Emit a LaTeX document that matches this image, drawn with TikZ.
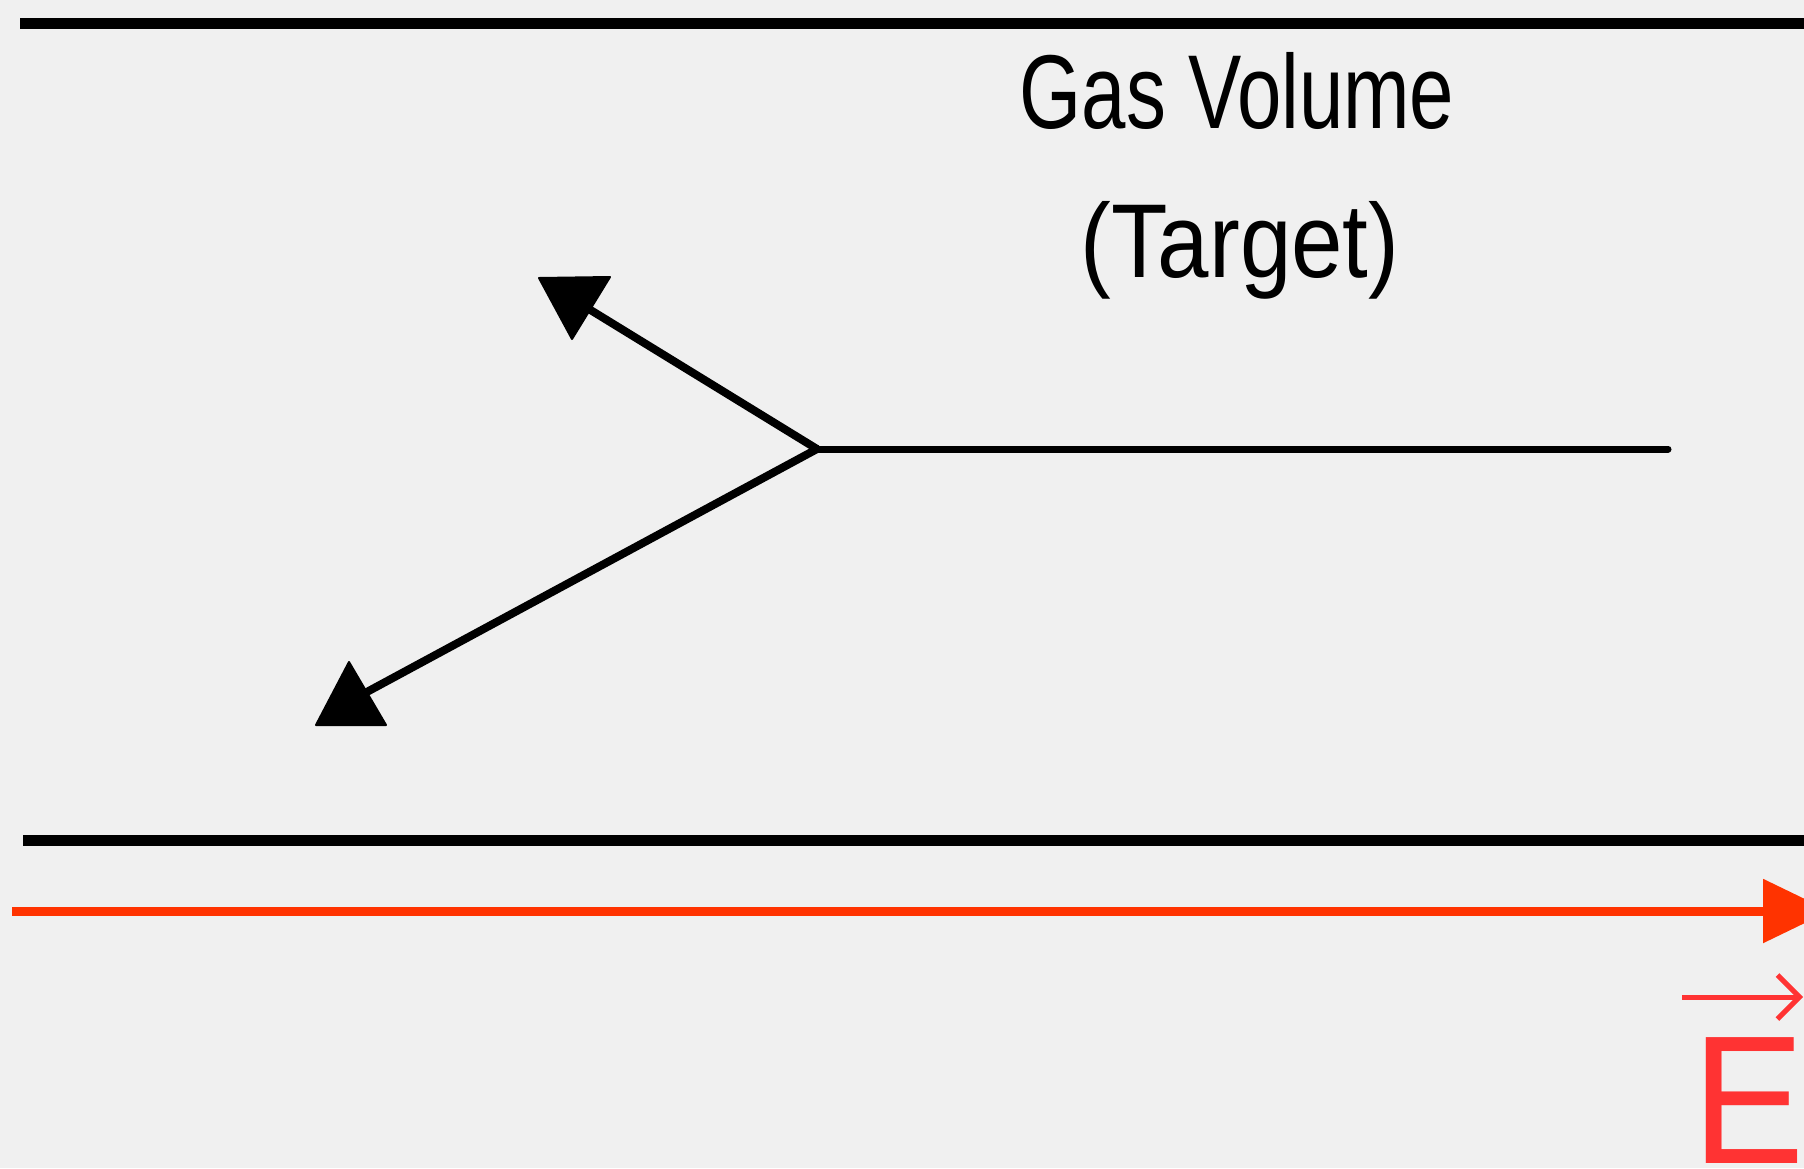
\documentclass[tikz,border=0pt]{standalone}
\usepackage{fontspec}
\setmainfont{Liberation Sans}
\usetikzlibrary{arrows.meta}
\definecolor{paper}{HTML}{F0F0F0}
\definecolor{fieldred}{HTML}{FF3300}
\definecolor{labelred}{HTML}{FF3333}
\begin{document}
\begin{tikzpicture}[x=1pt,y=-1pt,
  wall/.style={line width=11pt, black},
  track/.style={line width=6pt, black, line cap=round},
  tiphead/.style={fill=black, draw=black, line width=2pt, line join=round},
  field/.style={line width=9pt, fieldred, -{Triangle[length=67pt,width=62pt]}},
  vecarrow/.style={line width=5pt, labelred, -{Straight Barb[length=22pt,width=44pt,line width=5pt]}},
  caption/.style={font=\fontsize{105}{120}\selectfont, anchor=base, inner sep=0pt}]
\useasboundingbox (0,0) rectangle (1804,1168);
\fill[paper] (0,0) rectangle (1804,1168);
\clip (0,0) rectangle (1804,1168);

% walls of the gas cell
\coordinate (wtl) at (20,23);   \coordinate (wtr) at (1810,23);
\coordinate (wbl) at (23,840);  \coordinate (wbr) at (1810,840);
\draw[wall] (wtl) -- (wtr);
\draw[wall] (wbl) -- (wbr);

% electric field
\coordinate (fl) at (12,911);
\coordinate (fr) at (1830,911);
\draw[field] (fl) -- (fr);

% incoming track and the two outgoing tracks
\coordinate (v) at (817,449);
\coordinate (in) at (1668,449);
\coordinate (up) at (584,306);
\coordinate (dn) at (352,700);
\draw[track, line width=7pt] (in) -- (v);
\draw[track, line width=8pt] (v) -- (up);
\draw[track, line width=8pt] (v) -- (dn);
\fill[tiphead] (539,278) -- (610,277) -- (572,339) -- cycle;
\fill[tiphead] (316,725) -- (386,725) -- (349,662) -- cycle;

% labels
\node[caption] (gas) at (1237,128) {\scalebox{0.76}[1]{Gas Volume}};
\node[caption] (target) at (1240,277) {\scalebox{0.88}[1]{(Target)}};

\node[anchor=base west, inner sep=0pt, text=labelred,
      font=\fontsize{183}{200}\selectfont] (E) at (1692,1163) {\scalebox{0.92}[1]{E}};
\coordinate (vs) at (1682,997);
\coordinate (ve) at (1803,997);
\draw[vecarrow] (vs) -- (ve);
\end{tikzpicture}
\end{document}
